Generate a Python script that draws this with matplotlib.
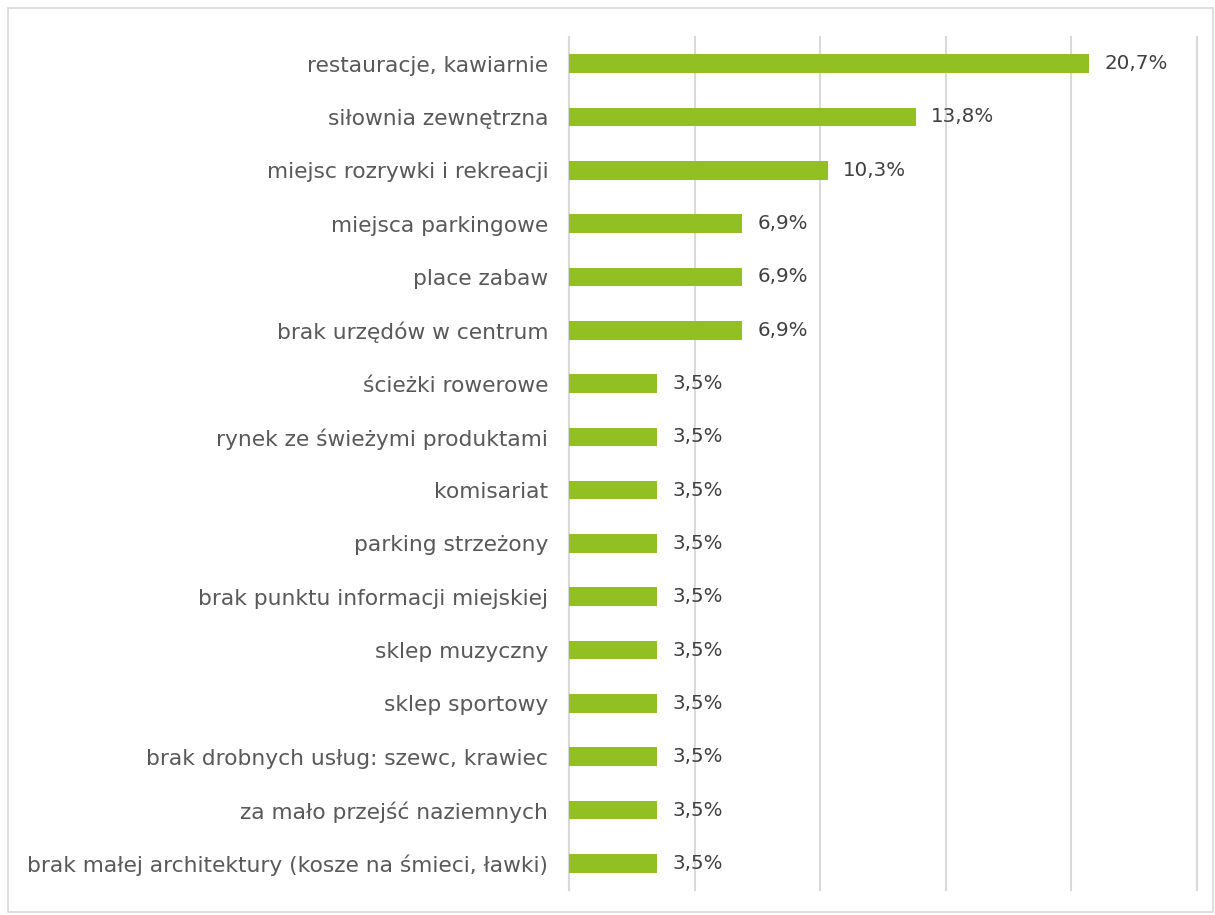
import matplotlib
matplotlib.use("Agg")
import matplotlib.pyplot as plt
from matplotlib.patches import Rectangle

categories = [
    "restauracje, kawiarnie",
    "siłownia zewnętrzna",
    "miejsc rozrywki i rekreacji",
    "miejsca parkingowe",
    "place zabaw",
    "brak urzędów w centrum",
    "ścieżki rowerowe",
    "rynek ze świeżymi produktami",
    "komisariat",
    "parking strzeżony",
    "brak punktu informacji miejskiej",
    "sklep muzyczny",
    "sklep sportowy",
    "brak drobnych usług: szewc, krawiec",
    "za mało przejść naziemnych",
    "brak małej architektury (kosze na śmieci, ławki)",
]
values = [20.7, 13.8, 10.3, 6.9, 6.9, 6.9, 3.5, 3.5, 3.5, 3.5, 3.5, 3.5, 3.5, 3.5, 3.5, 3.5]
value_labels = ["20,7%", "13,8%", "10,3%", "6,9%", "6,9%", "6,9%", "3,5%", "3,5%",
                "3,5%", "3,5%", "3,5%", "3,5%", "3,5%", "3,5%", "3,5%", "3,5%"]

plt.rcParams['font.family'] = ['DejaVu Sans']

fig = plt.figure(figsize=(12.15, 9.15), dpi=100)
ax = fig.add_axes([569/1215, 1-890/915, (1197-569)/1215, (890-37)/915])

y = list(range(len(categories)))
ax.barh(y, values, height=0.35, color="#92C023", zorder=3)
ax.set_ylim(len(categories)-0.5, -0.5)
ax.set_xlim(0, 25)
ax.set_xticks([0, 5, 10, 15, 20, 25])
ax.xaxis.grid(True, color="#D9D9D9", linewidth=1.5, zorder=0)
for gl in ax.get_xgridlines():
    gl.set_clip_on(False)
ax.tick_params(axis='x', length=0, labelbottom=False)
ax.tick_params(axis='y', length=0, pad=15, labelsize=15.7, labelcolor="#595959")
ax.set_yticks(y)
ax.set_yticklabels(categories)
for s in ["top", "right", "bottom"]:
    ax.spines[s].set_visible(False)
ax.spines["left"].set_color("#D9D9D9")
ax.spines["left"].set_linewidth(1.5)

for yi, v, lab in zip(y, values, value_labels):
    ax.text(v + 0.62, yi, lab, va="center", ha="left", fontsize=14.3, color="#404040")

fig.patches.append(Rectangle((8/1215, 3/915), 1205/1215, 904/915, transform=fig.transFigure,
                             fill=False, edgecolor="#D9D9D9", linewidth=1.2))

fig.savefig("out.png", dpi=100)
